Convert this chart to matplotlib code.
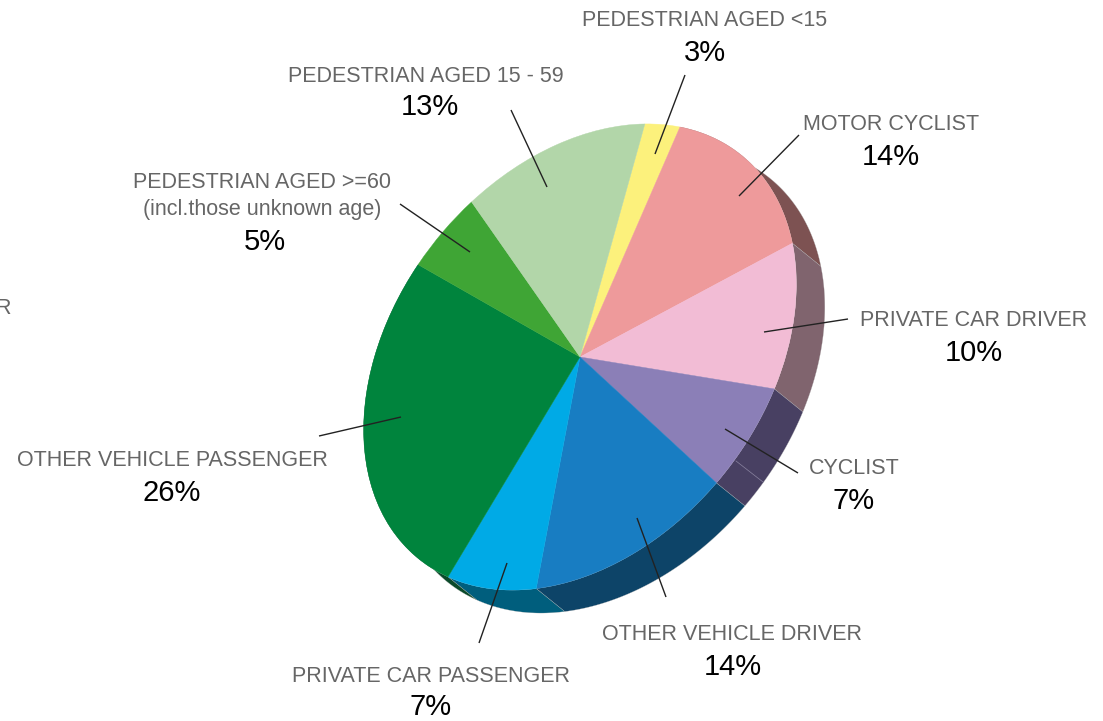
import numpy as np
import matplotlib
matplotlib.use('Agg')
import matplotlib.pyplot as plt
from matplotlib.patches import Polygon
from matplotlib.transforms import Affine2D

plt.rcParams['font.family'] = ['Liberation Sans', 'DejaVu Sans']

# slices, clockwise from the top
labels = ['PEDESTRIAN AGED <15', 'MOTOR CYCLIST', 'PRIVATE CAR DRIVER', 'CYCLIST',
          'OTHER VEHICLE DRIVER', 'PRIVATE CAR PASSENGER', 'OTHER VEHICLE PASSENGER',
          'PEDESTRIAN AGED >=60\n(incl.those unknown age)', 'PEDESTRIAN AGED 15 - 59']
percents = [3, 14, 10, 7, 14, 7, 26, 5, 13]
sizes = [2.8, 14.3, 10.3, 6.9, 14.1, 7.2, 26.1, 5.1, 13.2]

top_colors = ['#fcf17c', '#ee9a9b', '#f2bcd5', '#8b7fb7', '#187dc2',
              '#00aae6', '#00843d', '#3fa535', '#b2d6a9']
wall_colors = [None, '#7d5252', '#80646e', '#484062', '#0d4468',
               '#005e7d', '#0a4a2a', None, None]

# label layout in pixels: text centre, percent centre, leader line
text_pos = [(705, 20), (891, 125), (974, 321), (854, 469), (732, 635),
            (431, 676), (172, 461), (262, 196), (426, 76)]
pct_pos = [(705, 53), (891, 157), (974, 353), (854, 501), (733, 667),
           (431, 707), (172, 493), (265, 242), (430, 107)]
leaders = [((685, 75), (655, 154)), ((799, 135), (739, 196)), ((848, 319), (764, 332)),
           ((798, 473), (725, 429)), ((666, 597), (637, 518)), ((479, 643), (507, 563)),
           ((319, 436), (401, 417)), ((400, 204), (470, 252)), ((511, 110), (547, 187))]

# the tilted disc: unit pie -> pixels
tilt = (204, 5, 72, -233, 580, 357)
start = 92
depth = (28.5, 23)

fig = plt.figure(figsize=(11.03, 7.21), dpi=100)
ax = fig.add_axes([0, 0, 1, 1])

wedges, _ = ax.pie(sizes, startangle=start, counterclock=False, colors=top_colors,
                   wedgeprops={'linewidth': 0.3, 'zorder': 3})
disc = Affine2D.from_values(*tilt)
for w in wedges:
    w.set_transform(disc + ax.transData)
    w.set_edgecolor(w.get_facecolor())

# side wall under the disc
edges = np.radians(start) - np.cumsum([0] + sizes) / sum(sizes) * 2 * np.pi
for i, c in enumerate(wall_colors):
    if c is None:
        continue
    t = np.linspace(edges[i], edges[i + 1], 80)
    arc = disc.transform(np.column_stack([np.cos(t), np.sin(t)]))
    wall = np.vstack([arc, (arc + depth)[::-1]])
    ax.add_patch(Polygon(wall, closed=True, facecolor=c, edgecolor='#b0b0b0',
                         linewidth=0.2, zorder=2))

# thin seam in the cyclist wall
ax.plot([736, 763], [461, 482], color='#8a84a0', lw=0.5, zorder=2.5)

for lab, tp, pp, ld, v in zip(labels, text_pos, pct_pos, leaders, percents):
    ax.text(tp[0], tp[1], lab, ha='center', va='center', fontsize=15.5,
            color='#666666', linespacing=1.35, zorder=5)
    ax.text(pp[0], pp[1], '%d%%' % v, ha='center', va='center', fontsize=21,
            color='black', zorder=5)
    ax.plot([ld[0][0], ld[1][0]], [ld[0][1], ld[1][1]], color='#222222', lw=1.0,
            solid_capstyle='butt', zorder=4)

# cut-off end of a label at the left edge
ax.text(11, 309, 'R', ha='right', va='center', fontsize=15.5, color='#666666')

ax.set_aspect('auto')
ax.set_xlim(0, 1103)
ax.set_ylim(721, 0)
ax.axis('off')
fig.savefig('out.png', dpi=100)
